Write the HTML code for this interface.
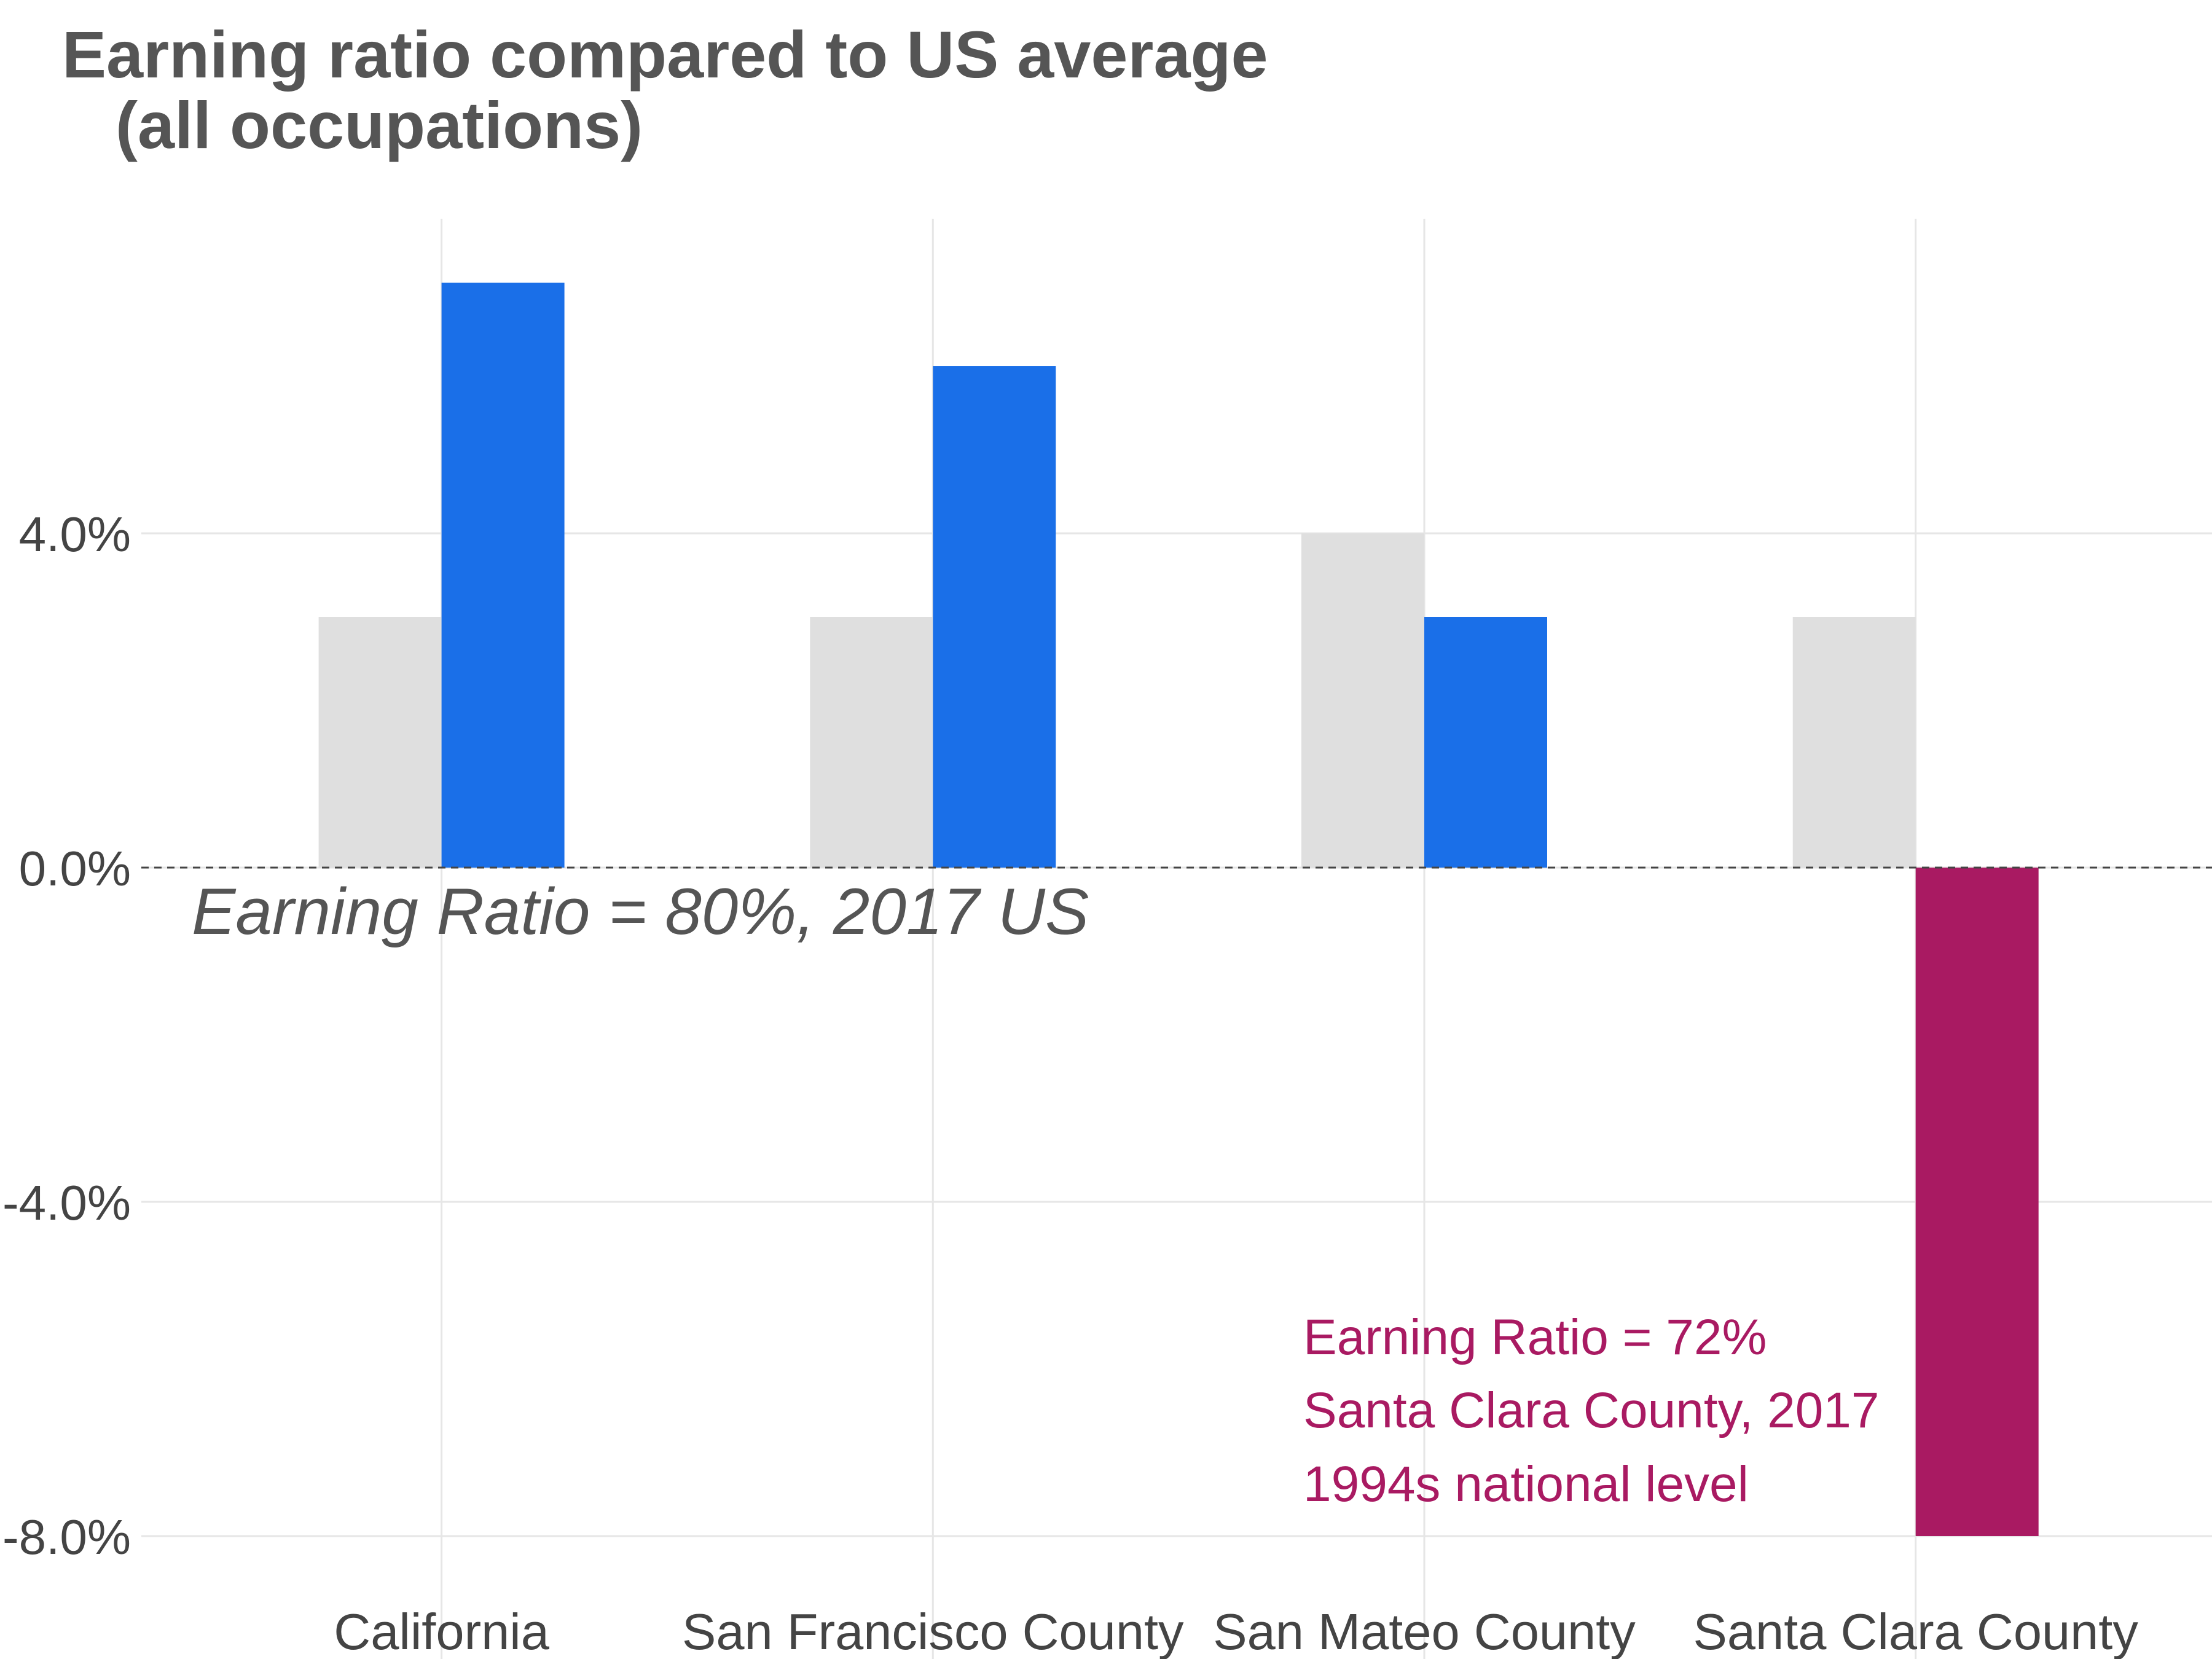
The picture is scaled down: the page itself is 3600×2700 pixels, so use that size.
<!DOCTYPE html>
<html><head><meta charset="utf-8"><style>
html,body{margin:0;padding:0;background:#fff;}
svg{display:block;font-family:"Liberation Sans",sans-serif;}
</style></head><body>
<svg id="chart" width="3600" height="2700" viewBox="0 0 3600 2700">
<text x="101" y="126" font-size="108" font-weight="bold" fill="#555">Earning ratio compared to US average</text>
<text x="188" y="241" font-size="108" font-weight="bold" fill="#555">(all occupations)</text>
<g id="grid"></g><g id="bars"></g><g id="axes"></g>
<text x="312" y="1520" font-size="107" font-style="italic" fill="#555">Earning Ratio = 80%, 2017 US</text>
<g fill="#a91a62" font-size="82">
<text x="2121" y="2204">Earning Ratio = 72%</text>
<text x="2121" y="2323">Santa Clara County, 2017</text>
<text x="2121" y="2443">1994s national level</text>
</g>
</svg>
<script>
const categories = ["California","San Francisco County","San Mateo County","Santa Clara County"];
const grayValues = [3,3,4,3];
const currentValues = [7,6,3,-8];
const yTicks = [4,0,-4,-8];
const yTickLabels = ["4.0%","0.0%","-4.0%","-8.0%"];
const NS="http://www.w3.org/2000/svg";
const y = v => 1412 - v*136;
const x = i => 718.6 + i*799.7;
const bw = 200;
function mk(tag, attrs, parent){const e=document.createElementNS(NS,tag);for(const k in attrs)e.setAttribute(k,attrs[k]);document.getElementById(parent).appendChild(e);return e;}
yTicks.forEach((t,i)=>{
  const l=mk('line',{x1:230,x2:3600,y1:y(t),y2:y(t),stroke:'#e6e6e6','stroke-width':3},'grid');
  
  
  const tx=mk('text',{x:213,y:y(t)+29,'text-anchor':'end','font-size':80,fill:'#444'},'axes');
  tx.textContent=yTickLabels[i];
  
  
});
categories.forEach((c,i)=>{
  const l=mk('line',{x1:x(i),x2:x(i),y1:356,y2:2700,stroke:'#e6e6e6','stroke-width':3},'grid');
  
  
  const g=grayValues[i];
  const r1=mk('rect',{x:x(i)-bw,y:Math.min(y(g),y(0)),width:bw,height:Math.abs(y(g)-y(0)),fill:'#dfdfdf'},'bars');
  
  
  const v=currentValues[i];
  const r2=mk('rect',{x:x(i),y:Math.min(y(v),y(0)),width:bw,height:Math.abs(y(v)-y(0)),fill:v<0?'#a91a62':'#1a6fe8'},'bars');
  
  
  const tx=mk('text',{x:x(i),y:2684,'text-anchor':'middle','font-size':83,fill:'#444'},'axes');
  tx.textContent=c;
  
  
});
const z=mk('line',{x1:230,x2:3600,y1:y(0),y2:y(0),stroke:'#444','stroke-width':3,'stroke-dasharray':'12,9'},'axes');


</script>
</body></html>
